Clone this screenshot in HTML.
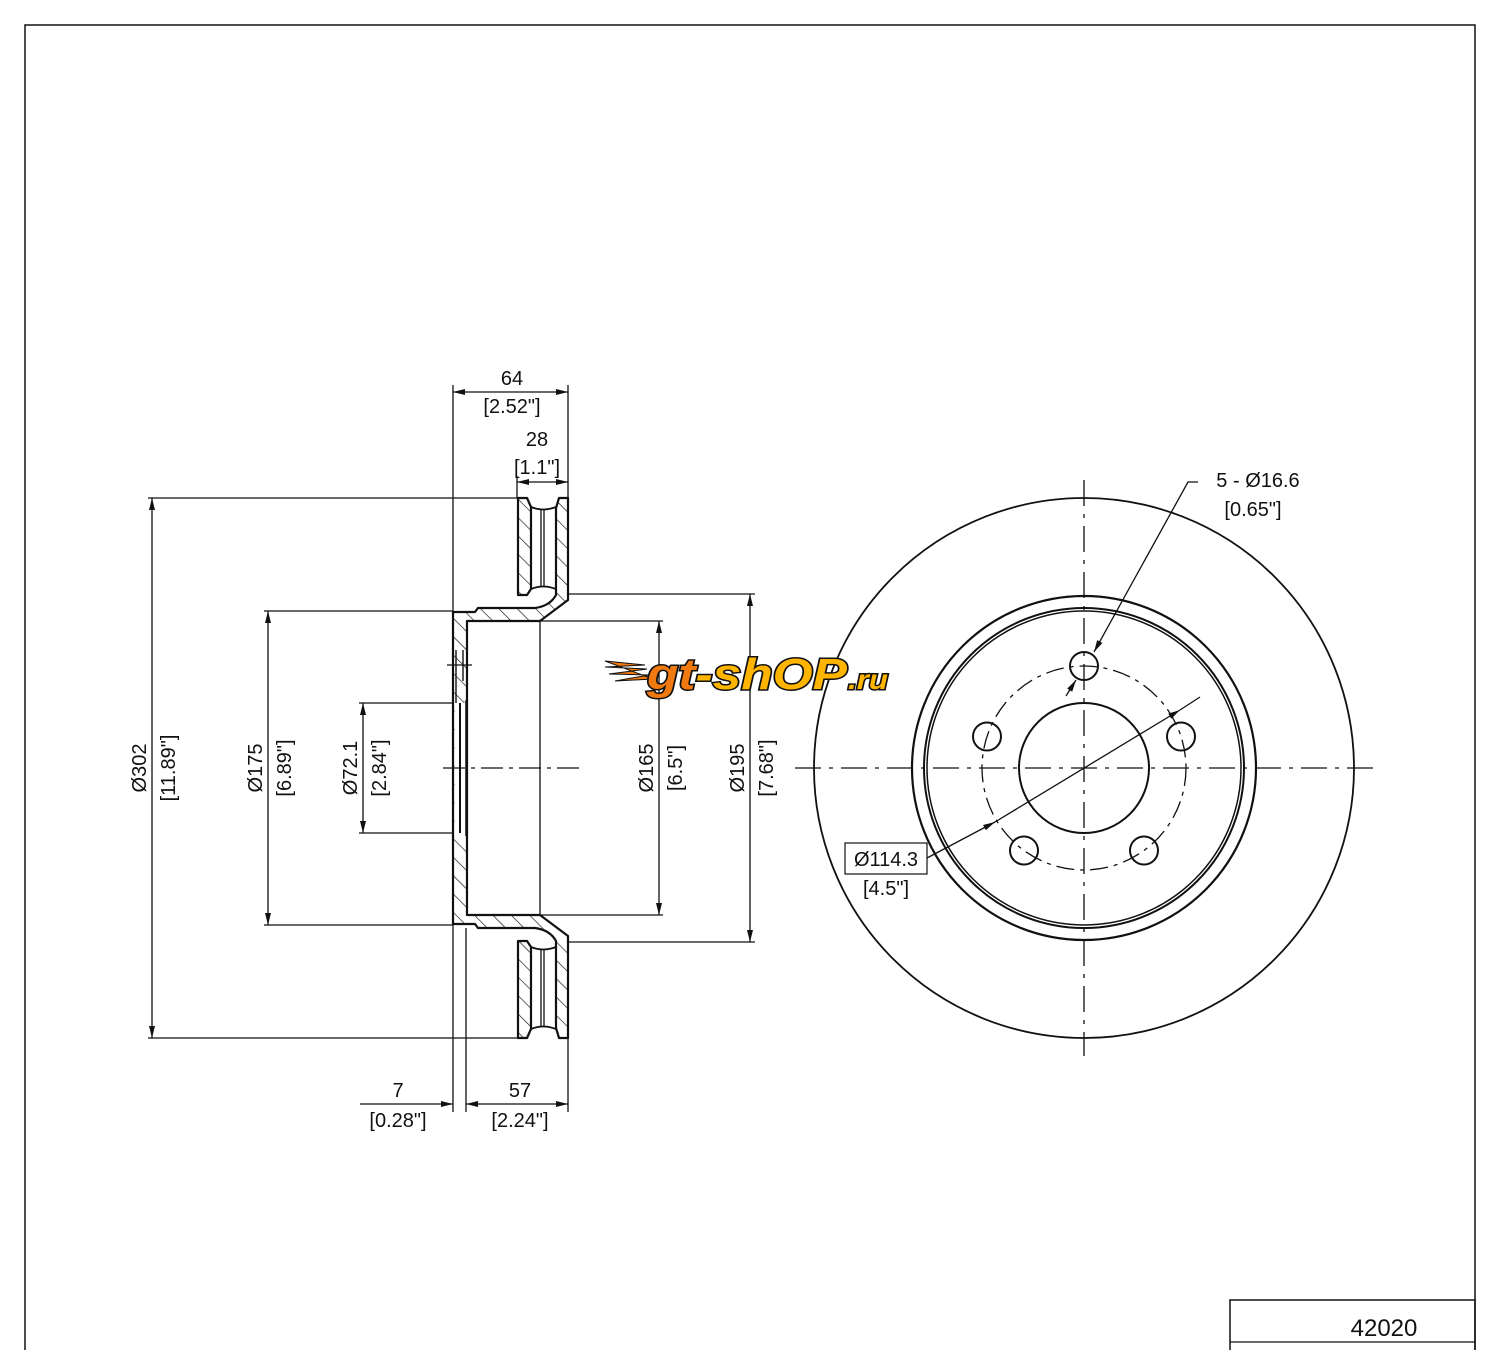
<!DOCTYPE html>
<html><head><meta charset="utf-8"><style>
html,body{margin:0;padding:0;background:#fff}
svg{display:block}
text{font-family:"Liberation Sans",sans-serif;font-size:20px;fill:#111}
</style></head><body>
<svg width="1500" height="1350" viewBox="0 0 1500 1350" xmlns="http://www.w3.org/2000/svg">
<defs>
<pattern id="h" patternUnits="userSpaceOnUse" width="13" height="13" patternTransform="rotate(-45)">
<line x1="0" y1="0" x2="0" y2="13" stroke="#111" stroke-width="1.3"/>
</pattern>
<marker id="a" viewBox="0 0 12 6" refX="12" refY="3" markerWidth="12" markerHeight="6" orient="auto-start-reverse" markerUnits="userSpaceOnUse">
<path d="M0,0 L12,3 L0,6 z" fill="#111"/>
</marker>
</defs>
<rect x="25" y="25" width="1450" height="1340" fill="none" stroke="#111" stroke-width="1.5"/>
<rect x="1230" y="1300" width="245" height="60" fill="none" stroke="#111" stroke-width="1.5"/>
<line x1="1230" y1="1342" x2="1475" y2="1342" stroke="#111" stroke-width="1.2"/>
<text x="1384" y="1336" text-anchor="middle" style="font-size:24px">42020</text>

<g stroke="#111" stroke-width="2.2" fill="url(#h)" stroke-linejoin="round">
<polygon points="518,498 527,498 531,507 531,589 527,595 518,595"/>
<polygon points="518,1038 527,1038 531,1029 531,947 527,941 518,941"/>
<path d="M556,508 L559,498 568,498 568,600 540,621 467,621 467,915 540,915 568,936 568,1038 559,1038 556,1028 556,941 Q550,930 535,928 L478,928 475,924 453,924 453,612 475,612 478,608 535,608 Q550,606 556,595 Z"/>
</g>
<rect x="454.5" y="703" width="11" height="130" fill="#fff"/>
<g stroke="#111" stroke-width="2" fill="none">
<line x1="453" y1="700" x2="453" y2="836"/>
<line x1="460" y1="703" x2="460" y2="833"/>
<line x1="466" y1="700" x2="466" y2="836" stroke-width="1.5"/>
<line x1="456" y1="681" x2="456" y2="703" stroke-width="1.4"/>
<line x1="463" y1="650" x2="463" y2="681" stroke-width="1.4"/>
<line x1="456" y1="650" x2="456" y2="681" stroke-width="1.4"/>
<path d="M531,507 Q543,512 556,507" stroke-width="1.8"/>
<path d="M531,589 Q543,584 556,589" stroke-width="1.8"/>
<path d="M531,947 Q543,952 556,947" stroke-width="1.8"/>
<path d="M531,1029 Q543,1024 556,1029" stroke-width="1.8"/>
<line x1="541" y1="509" x2="541" y2="587" stroke-width="1.3"/>
<line x1="544" y1="509" x2="544" y2="587" stroke-width="1.3"/>
<line x1="541" y1="949" x2="541" y2="1027" stroke-width="1.3"/>
<line x1="544" y1="949" x2="544" y2="1027" stroke-width="1.3"/>
</g>
<g stroke="#111" stroke-width="1.3" fill="none">
<line x1="540" y1="621" x2="540" y2="915"/>
<line x1="447" y1="665" x2="472" y2="665"/>
<line x1="453" y1="385" x2="453" y2="1112"/>
<line x1="568" y1="385" x2="568" y2="498"/>
<line x1="568" y1="1038" x2="568" y2="1112"/>
<line x1="466" y1="928" x2="466" y2="1112"/>
<line x1="517" y1="476" x2="517" y2="498"/>
<line x1="148" y1="498" x2="518" y2="498"/>
<line x1="148" y1="1038" x2="518" y2="1038"/>
<line x1="264" y1="611" x2="453" y2="611"/>
<line x1="264" y1="925" x2="453" y2="925"/>
<line x1="359" y1="703" x2="453" y2="703"/>
<line x1="359" y1="833" x2="453" y2="833"/>
<line x1="540" y1="621" x2="663" y2="621"/>
<line x1="540" y1="915" x2="663" y2="915"/>
<line x1="568" y1="594" x2="755" y2="594"/>
<line x1="568" y1="942" x2="755" y2="942"/>
<line x1="453" y1="392" x2="568" y2="392" marker-start="url(#a)" marker-end="url(#a)"/>
<line x1="517" y1="482" x2="568" y2="482" marker-start="url(#a)" marker-end="url(#a)"/>
<line x1="152" y1="498" x2="152" y2="1038" marker-start="url(#a)" marker-end="url(#a)"/>
<line x1="268" y1="611" x2="268" y2="925" marker-start="url(#a)" marker-end="url(#a)"/>
<line x1="363" y1="703" x2="363" y2="833" marker-start="url(#a)" marker-end="url(#a)"/>
<line x1="659" y1="621" x2="659" y2="915" marker-start="url(#a)" marker-end="url(#a)"/>
<line x1="750" y1="594" x2="750" y2="942" marker-start="url(#a)" marker-end="url(#a)"/>
<line x1="360" y1="1104" x2="453" y2="1104" marker-end="url(#a)"/>
<line x1="466" y1="1104" x2="568" y2="1104" marker-start="url(#a)" marker-end="url(#a)"/>
<line x1="443" y1="768" x2="580" y2="768" stroke-dasharray="22,6,4,6"/>
</g>
<text x="512" y="385" text-anchor="middle">64</text>
<text x="512" y="413" text-anchor="middle">[2.52"]</text>
<text x="537" y="446" text-anchor="middle">28</text>
<text x="537" y="474" text-anchor="middle">[1.1"]</text>
<text x="398" y="1097" text-anchor="middle">7</text>
<text x="398" y="1127" text-anchor="middle">[0.28"]</text>
<text x="520" y="1097" text-anchor="middle">57</text>
<text x="520" y="1127" text-anchor="middle">[2.24"]</text>
<text transform="translate(146,768) rotate(-90)" text-anchor="middle">Ø302</text>
<text transform="translate(175,768) rotate(-90)" text-anchor="middle">[11.89"]</text>
<text transform="translate(262,768) rotate(-90)" text-anchor="middle">Ø175</text>
<text transform="translate(291,768) rotate(-90)" text-anchor="middle">[6.89"]</text>
<text transform="translate(357,768) rotate(-90)" text-anchor="middle">Ø72.1</text>
<text transform="translate(386,768) rotate(-90)" text-anchor="middle">[2.84"]</text>
<text transform="translate(653,768) rotate(-90)" text-anchor="middle">Ø165</text>
<text transform="translate(682,768) rotate(-90)" text-anchor="middle">[6.5"]</text>
<text transform="translate(744,768) rotate(-90)" text-anchor="middle">Ø195</text>
<text transform="translate(773,768) rotate(-90)" text-anchor="middle">[7.68"]</text>

<g stroke="#111" fill="none">
<circle cx="1084" cy="768" r="270" stroke-width="1.8"/>
<circle cx="1084" cy="768" r="172" stroke-width="2.2"/>
<circle cx="1084" cy="768" r="160" stroke-width="2"/>
<circle cx="1084" cy="768" r="157" stroke-width="1.5"/>
<circle cx="1084" cy="768" r="65" stroke-width="2"/>
<circle cx="1084" cy="768" r="102" stroke-width="1.3" stroke-dasharray="18,6,4,6"/>
<g stroke-width="2">
<circle cx="1084" cy="666" r="14"/>
<circle cx="1181" cy="736.5" r="14"/>
<circle cx="1144" cy="850.5" r="14"/>
<circle cx="1024" cy="850.5" r="14"/>
<circle cx="987" cy="736.5" r="14"/>
</g>
<g stroke-width="1.3">
<line x1="795" y1="768" x2="1378" y2="768" stroke-dasharray="26,8,4,8"/>
<line x1="1084" y1="480" x2="1084" y2="1056" stroke-dasharray="26,8,4,8"/>
<polyline points="1198,482 1188,482 1094,652" marker-end="url(#a)"/>
<line x1="1066" y1="696" x2="1076" y2="680" marker-end="url(#a)"/>
<line x1="927" y1="858" x2="995" y2="822" marker-end="url(#a)"/>
<line x1="995" y1="822" x2="1180" y2="710" marker-end="url(#a)"/>
<line x1="1180" y1="710" x2="1200" y2="697"/>
<rect x="845" y="843" width="82" height="31" stroke-width="1.2"/>
</g>
</g>
<text x="1258" y="487" text-anchor="middle">5 - Ø16.6</text>
<text x="1253" y="516" text-anchor="middle">[0.65"]</text>
<text x="886" y="866" text-anchor="middle">Ø114.3</text>
<text x="886" y="895" text-anchor="middle">[4.5"]</text>

<g transform="translate(605,655)">
<path d="M0,6 L40,10 L0,12 L42,14 L4,19 L44,20 L10,26 L48,24 Z" fill="#f07a10" stroke="#111" stroke-width="1"/>
<text x="42" y="34" textLength="200" lengthAdjust="spacingAndGlyphs" style="font-size:44px;font-weight:bold;font-style:italic;fill:#ffb400;stroke:#111;stroke-width:3;paint-order:stroke"><tspan style="fill:#f07a10">gt</tspan>-shOP</text>
<text x="243" y="34" textLength="40" lengthAdjust="spacingAndGlyphs" style="font-size:28px;font-weight:bold;font-style:italic;fill:#ffb400;stroke:#111;stroke-width:3;paint-order:stroke">.ru</text>
</g>
</svg>
</body></html>
